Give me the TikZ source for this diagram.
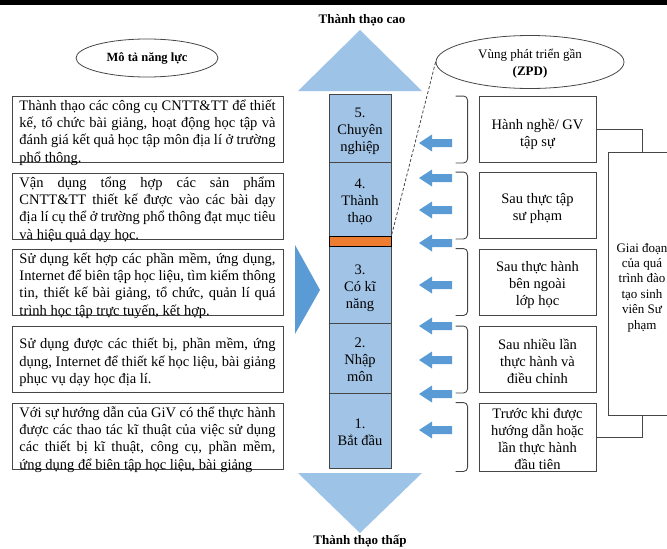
\documentclass[tikz,border=0pt]{standalone}
\usepackage{fontspec}
\setmainfont{Liberation Serif}
\usetikzlibrary{shapes.geometric,calc}

\definecolor{colfill}{RGB}{160,195,230}
\definecolor{headfill}{RGB}{157,195,230}
\definecolor{arrowblue}{RGB}{91,155,213}
\definecolor{levelorange}{RGB}{237,125,49}
\definecolor{edge}{RGB}{70,70,70}

% one fully justified text row, stacked in a vertical box
\newcommand{\jrow}[1]{\hbox to 256pt{#1}}
\newcommand{\lastrow}[1]{\hbox to 256pt{#1\hfil}}
\newcommand{\rowstack}[1]{\raisebox{-3.5pt}[\height][\depth]{\vbox{\hsize=256pt #1}}}
% centred lines, set a little low in their box
\newcommand{\centrelines}[2][3.5pt]{\raisebox{-#1}[\height][\depth]{%
  \begin{tabular}{@{}c@{}}#2\end{tabular}}}

\begin{document}
\begin{tikzpicture}[x=1pt,y=-1pt,
  frame/.style={draw=edge, line width=0.9pt},
  descbox/.style={frame, inner xsep=7.5pt, inner ysep=0pt,
    minimum height=66pt, font=\fontsize{14.5}{17.3}\selectfont},
  stagebox/.style={frame, minimum width=117pt, inner sep=0pt,
    minimum height=66pt, font=\fontsize{14.5}{17}\selectfont},
  levelbox/.style={draw=edge, line width=0.8pt, fill=colfill, minimum width=62pt,
    inner sep=0pt, font=\fontsize{14.5}{17}\selectfont},
  heading/.style={font=\fontsize{13}{15}\selectfont\bfseries},
  brk/.style={draw=edge, line width=0.9pt, rounded corners=4pt},
  larrow/.pic={\fill[arrowblue] (0,-4) -- (-20,-4) -- (-20,-8.5) -- (-33,0)
    -- (-20,8.5) -- (-20,4) -- (0,4) -- cycle;}
]
\useasboundingbox (0,0) rectangle (667,549);
\clip (0,0) rectangle (667,549);

% top rule
\fill[black] (0,0) rectangle (667,4.5);

% titles
\node[heading] (hightitle) at (362,20) {Thành thạo cao};
\node[heading] (lowtitle) at (360,541) {Thành thạo thấp};

\node[ellipse, draw=edge, line width=0.8pt, minimum width=142pt, minimum height=38pt,
  inner sep=0pt, font=\fontsize{12.5}{15}\selectfont\bfseries] (desctitle) at (147,58)
  {\raisebox{-2pt}{Mô tả năng lực}};

\node[ellipse, draw=edge, line width=0.8pt, minimum width=188pt, minimum height=53pt,
  inner sep=0pt, font=\fontsize{13}{17}\selectfont] (zpd) at (530,62)
  {\centrelines[2pt]{Vùng phát triển gần\\\textbf{(ZPD)}}};

% competence descriptions
\node[descbox] (descA) at (147.5,129) {\rowstack{%
  \jrow{Thành thạo các công cụ CNTT\&TT để thiết}
  \jrow{kế, tổ chức bài giảng, hoạt động học tập và}
  \jrow{đánh giá kết quả học tập môn địa lí ở trường}
  \lastrow{phổ thông.}}};
\node[descbox] (descB) at (147.5,206) {\rowstack{%
  \jrow{Vận dụng tổng hợp các sản phẩm}
  \jrow{CNTT\&TT thiết kế được vào các bài dạy}
  \jrow{địa lí cụ thể ở trường phổ thông đạt mục tiêu}
  \lastrow{và hiệu quả dạy học.}}};
\node[descbox] (descC) at (147.5,282) {\rowstack{%
  \jrow{Sử dụng kết hợp các phần mềm, ứng dụng,}
  \jrow{Internet để biên tập học liệu, tìm kiếm thông}
  \jrow{tin, thiết kế bài giảng, tổ chức, quản lí quá}
  \lastrow{trình học tập trực tuyến, kết hợp.}}};
\node[descbox] (descD) at (147.5,359) {\rowstack{%
  \jrow{Sử dụng được các thiết bị, phần mềm, ứng}
  \jrow{dụng, Internet để thiết kế học liệu, bài giảng}
  \lastrow{phục vụ dạy học địa lí.}}};
\node[descbox] (descE) at (147.5,436) {\rowstack{%
  \jrow{Với sự hướng dẫn của GiV có thể thực hành}
  \jrow{được các thao tác kĩ thuật của việc sử dụng}
  \jrow{các thiết bị kĩ thuật, công cụ, phần mềm,}
  \lastrow{ứng dụng để biên tập học liệu, bài giảng}}};

% pointer towards the scale
\fill[arrowblue] (295,245) -- (320,290) -- (295,334) -- cycle;

% proficiency scale
\fill[headfill] (298,91) -- (360,30) -- (422,91) -- cycle;
\fill[headfill] (298,473) -- (360,533) -- (422,473) -- cycle;

\node[levelbox, minimum height=68pt] (level5) at (360,128) {\centrelines{5.\\Chuyên\\nghiệp}};
\node[levelbox, minimum height=74pt] (level4) at (360,199) {\centrelines{4.\\Thành\\thạo}};
\node[levelbox, minimum height=77pt] (level3) at (360,284.5) {\centrelines{3.\\Có kĩ\\năng}};
\node[levelbox, minimum height=70pt] (level2) at (360,358) {\centrelines{2.\\Nhập\\môn}};
\node[levelbox, minimum height=75pt] (level1) at (360,430.5) {\centrelines{1.\\Bắt đầu}};
\node[draw=black, line width=1pt, fill=levelorange, minimum width=62pt, minimum height=10pt,
  inner sep=0pt] (orange) at (360,241) {};

\draw[edge, line width=0.8pt, dash pattern=on 3pt off 2pt] (zpd.west) -- (orange.north east);

% small arrows
\foreach \y in {143,178,210,243,285,326,360,394,430}
  \pic at (452,\y) {larrow};

% training stages
\node[stagebox] (rb1) at (537.5,129.5) {\centrelines[5pt]{Hành nghề/ GV\\tập sự}};
\node[stagebox] (rb2) at (537.5,205.5) {\centrelines{Sau thực tập\\sư phạm}};
\node[stagebox] (rb3) at (537.5,282) {\centrelines{Sau thực hành\\bên ngoài\\lớp học}};
\node[stagebox] (rb4) at (537.5,359.5) {\centrelines{Sau nhiều lần\\thực hành và\\điều chỉnh}};
\node[stagebox] (rb5) at (537.5,437) {\centrelines{Trước khi được\\hướng dẫn hoặc\\lần thực hành\\đầu tiên}};

\foreach \b in {rb1,rb2,rb3,rb4,rb5}
  \draw[brk] ([xshift=-23pt]\b.north west) -| ([xshift=-11pt]\b.south west)
    -- ([xshift=-23pt]\b.south west);

\node[frame, minimum width=68pt, minimum height=263pt, inner sep=0pt,
  font=\fontsize{13}{15.4}\selectfont] (stage) at (642,283.5)
  {\centrelines[4pt]{Giai đoạn\\của quá\\trình đào\\tạo sinh\\viên Sư\\phạm}};

\draw[frame] (rb1.east) -| (stage.north);
\draw[frame] (rb5.east) -| (stage.south);
\end{tikzpicture}
\end{document}
